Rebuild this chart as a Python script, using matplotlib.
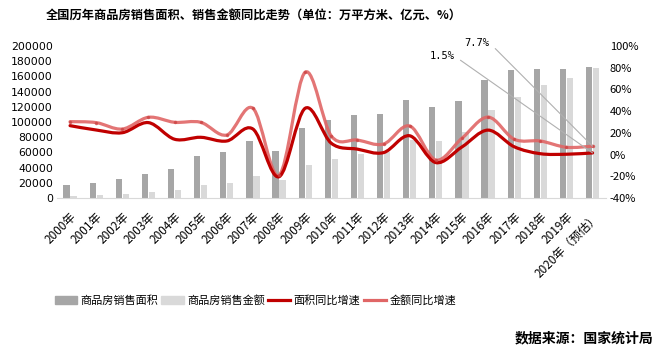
import matplotlib
matplotlib.use('Agg')
import matplotlib.pyplot as plt
import numpy as np
from matplotlib.path import Path
from matplotlib.patches import PathPatch, Patch
from matplotlib.lines import Line2D

plt.rcParams['font.family'] = ['Noto Sans CJK SC', 'DejaVu Sans']
plt.rcParams['axes.unicode_minus'] = False

# 数据
years = ['2000年', '2001年', '2002年', '2003年', '2004年', '2005年', '2006年',
         '2007年', '2008年', '2009年', '2010年', '2011年', '2012年', '2013年',
         '2014年', '2015年', '2016年', '2017年', '2018年', '2019年', '2020年（预估）']
area = [17100, 20100, 25000, 31600, 38200, 55300, 60500, 75400, 61800, 92500, 102600,
        109200, 110500, 128900, 119700, 127600, 155300, 168400, 169700, 169700, 172800]
amount = [3000, 3900, 5300, 7900, 10500, 17100, 19700, 28900, 23700, 43400, 51300,
          57900, 60100, 76300, 75000, 87200, 115800, 132500, 148700, 158300, 171400]
area_yoy = [26.6, 22.6, 20.1, 29.4, 14.1, 15.9, 12.5, 23.5, -20.4, 42.6, 10.4,
            5.0, 1.8, 17.3, -7.4, 7.0, 22.5, 7.2, 0.8, 0.3, 1.5]
amount_yoy = [30.3, 29.4, 23.5, 34.3, 29.7, 29.7, 18.0, 42.6, -19.0, 75.8, 17.1,
              13.4, 9.7, 26.3, -5.0, 15.0, 34.5, 14.1, 12.5, 6.7, 7.7]

COLORS = {
    'area': '#a6a6a6',
    'amount': '#d9d9d9',
    'area_yoy': '#c00000',
    'amount_yoy': '#e06666',
    'leader': '#b0b0b0',
}


def smooth_path(xs, ys):
    """Excel 风格平滑线：Catmull-Rom 转贝塞尔"""
    pts = np.column_stack([xs, ys]).astype(float)
    n = len(pts)
    verts = [pts[0]]
    codes = [Path.MOVETO]
    for i in range(n - 1):
        p0 = pts[i - 1] if i > 0 else pts[i]
        p1, p2 = pts[i], pts[i + 1]
        p3 = pts[i + 2] if i + 2 < n else pts[i + 1]
        c1 = p1 + (p2 - p0) / 6
        c2 = p2 - (p3 - p1) / 6
        verts += [c1, c2, p2]
        codes += [Path.CURVE4] * 3
    return Path(verts, codes)


fig = plt.figure(figsize=(6.65, 3.53), dpi=100)
ax = fig.add_axes([0.0857, 0.439, 0.825, 0.431])
ax2 = ax.twinx()

x = np.arange(len(years))
w = 0.24
ax.bar(x - 0.135, area, w, color=COLORS['area'], label='商品房销售面积')
ax.bar(x + 0.135, amount, w, color=COLORS['amount'], label='商品房销售金额')

ax.set_xlim(-0.5, len(years) - 0.5)
ax.set_ylim(0, 200000)
ax.set_yticks(range(0, 200001, 20000))
ax.tick_params(axis='y', length=0, labelsize=7.8, pad=3)
for lab in ax.get_yticklabels():
    lab.set_family('DejaVu Sans')
ax.set_xticks(x)
ax.set_xticklabels(years, rotation=45, ha='right', rotation_mode='anchor', fontsize=8.5)
ax.tick_params(axis='x', length=0, pad=9)

ax2.set_ylim(-40, 100)
ax2.set_yticks(range(-40, 101, 20))
ax2.set_yticklabels([f'{v}%' for v in range(-40, 101, 20)])
ax2.tick_params(axis='y', length=0, labelsize=8, pad=3)

for a in (ax, ax2):
    for s in ('top', 'left', 'right'):
        a.spines[s].set_visible(False)
    a.spines['bottom'].set_color('#d9d9d9')
ax2.spines['bottom'].set_visible(False)

# 平滑折线
ax2.add_patch(PathPatch(smooth_path(x, amount_yoy), fill=False,
                        edgecolor=COLORS['amount_yoy'], lw=2.3, alpha=0.9,
                        capstyle='round', joinstyle='round'))
ax2.plot(x, amount_yoy, 'o', ms=1.5, color='#cc4444', alpha=0.7, zorder=3)
ax2.add_patch(PathPatch(smooth_path(x, area_yoy), fill=False,
                        edgecolor=COLORS['area_yoy'], lw=2.3,
                        capstyle='round', joinstyle='round'))

# 2020 标注
ax2.annotate(f'{amount_yoy[-1]}%', xy=(x[-1], amount_yoy[-1]), xytext=(15.1, 102.8),
             fontsize=7.5, family='DejaVu Sans Mono', ha='left', va='center',
             annotation_clip=False,
             arrowprops=dict(arrowstyle='-', color=COLORS['leader'], lw=0.8,
                             shrinkA=3, shrinkB=0, relpos=(1, 0.5)))
ax2.annotate(f'{area_yoy[-1]}%', xy=(x[-1], area_yoy[-1]), xytext=(13.75, 90.8),
             fontsize=7.5, family='DejaVu Sans Mono', ha='left', va='center',
             annotation_clip=False,
             arrowprops=dict(arrowstyle='-', color=COLORS['leader'], lw=0.8,
                             shrinkA=3, shrinkB=0, relpos=(1, 0.5)))

# 图例
handles = [
    Patch(color=COLORS['area'], label='商品房销售面积'),
    Patch(color=COLORS['amount'], label='商品房销售金额'),
    Line2D([], [], color=COLORS['area_yoy'], lw=2.3, label='面积同比增速'),
    Line2D([], [], color=COLORS['amount_yoy'], lw=2.3, label='金额同比增速'),
]
fig.legend(handles=handles, loc='center', bbox_to_anchor=(0.384, 0.148), ncol=4,
           frameon=False, fontsize=8, handlelength=2.0, handleheight=0.7,
           handletextpad=0.3, columnspacing=0.3)

fig.text(0.382, 0.957, '全国历年商品房销售面积、销售金额同比走势（单位：万平方米、亿元、%）',
         ha='center', va='center', fontsize=8.8, fontweight='bold')
fig.text(0.982, 0.042, '数据来源：国家统计局', ha='right', va='center',
         fontsize=10, fontweight='bold')

fig.savefig('out.png', dpi=100, facecolor='white')
plt.close(fig)
